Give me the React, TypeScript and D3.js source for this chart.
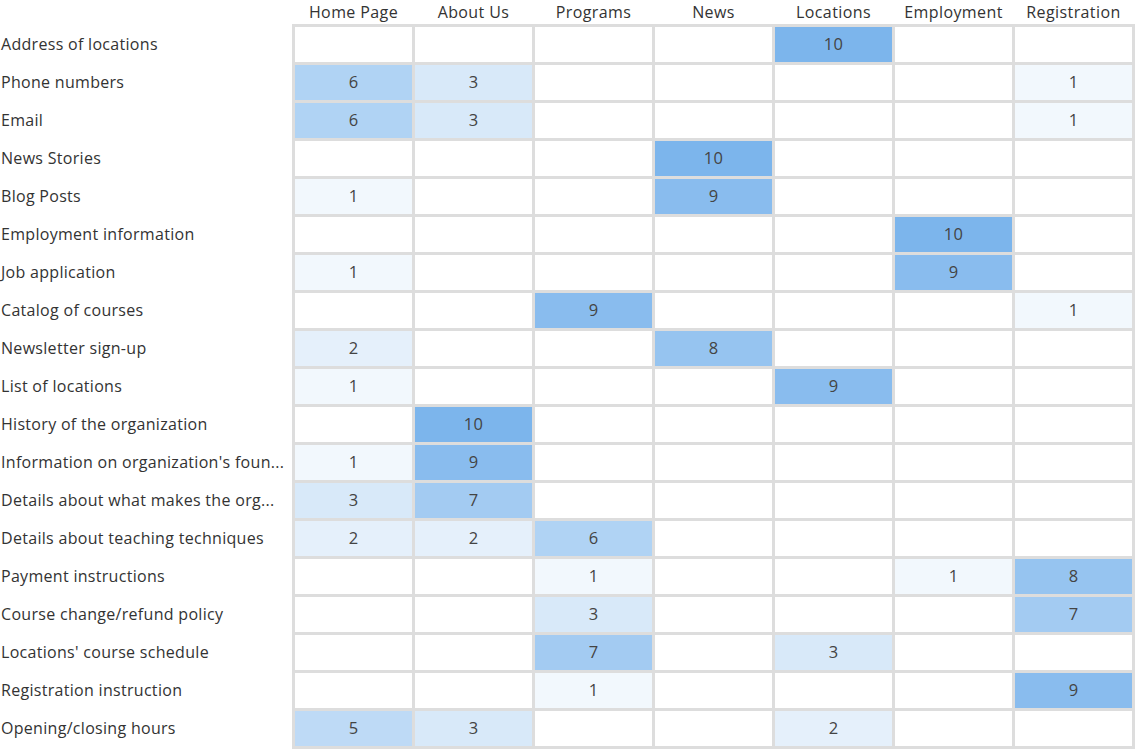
import React from "react";
import * as d3 from "d3";

const columns = ["Home Page", "About Us", "Programs", "News", "Locations", "Employment", "Registration"];
const rows = [
  "Address of locations",
  "Phone numbers",
  "Email",
  "News Stories",
  "Blog Posts",
  "Employment information",
  "Job application",
  "Catalog of courses",
  "Newsletter sign-up",
  "List of locations",
  "History of the organization",
  "Information on organization's foun...",
  "Details about what makes the org...",
  "Details about teaching techniques",
  "Payment instructions",
  "Course change/refund policy",
  "Locations' course schedule",
  "Registration instruction",
  "Opening/closing hours",
];

// values per column, one entry per row (0 = empty)
const homePage = [0, 6, 6, 0, 1, 0, 1, 0, 2, 1, 0, 1, 3, 2, 0, 0, 0, 0, 5];
const aboutUs = [0, 3, 3, 0, 0, 0, 0, 0, 0, 0, 10, 9, 7, 2, 0, 0, 0, 0, 3];
const programs = [0, 0, 0, 0, 0, 0, 0, 9, 0, 0, 0, 0, 0, 6, 1, 3, 7, 1, 0];
const news = [0, 0, 0, 10, 9, 0, 0, 0, 8, 0, 0, 0, 0, 0, 0, 0, 0, 0, 0];
const locations = [10, 0, 0, 0, 0, 0, 0, 0, 0, 9, 0, 0, 0, 0, 0, 0, 3, 0, 2];
const employment = [0, 0, 0, 0, 0, 10, 9, 0, 0, 0, 0, 0, 0, 0, 1, 0, 0, 0, 0];
const registration = [0, 1, 1, 0, 0, 0, 0, 1, 0, 0, 0, 0, 0, 0, 8, 7, 0, 9, 0];

const seriesByColumn = [homePage, aboutUs, programs, news, locations, employment, registration];

export default function App() {
  const width = 1136;
  const height = 750;
  const x = d3.scaleBand<string>().domain(columns).range([293.5, 1133.5]);
  const y = d3.scaleBand<string>().domain(rows).range([25.5, 747.5]);
  const color = d3.scaleLinear<string>().domain([0, 10]).range(["#ffffff", "#7cb5ec"]);
  const font = "'Open Sans', sans-serif";

  const cells: { r: string; c: string; v: number }[] = [];
  columns.forEach((c, ci) => {
    rows.forEach((r, ri) => {
      cells.push({ r, c, v: seriesByColumn[ci][ri] });
    });
  });

  return (
    <svg
      width={width}
      height={height}
      style={{ position: "absolute", left: 0, top: 0, display: "block" }}
      fontFamily={font}
    >
      <rect x={0} y={0} width={width} height={height} fill="#ffffff" />
      {cells.map((d, i) => (
        <rect
          key={"c" + i}
          x={x(d.c)}
          y={y(d.r)}
          width={x.bandwidth()}
          height={y.bandwidth()}
          fill={d.v > 0 ? color(d.v) : "#ffffff"}
          stroke="#dddddd"
          strokeWidth={3}
        />
      ))}
      {cells
        .filter((d) => d.v > 0)
        .map((d, i) => (
          <text
            key={"t" + i}
            x={(x(d.c) as number) + x.bandwidth() / 2}
            y={(y(d.r) as number) + y.bandwidth() / 2 - 1}
            textAnchor="middle"
            dominantBaseline="central"
            fontSize={16.5}
            letterSpacing={0.3}
            fill="#444444"
          >
            {d.v}
          </text>
        ))}
      {columns.map((c) => (
        <text
          key={"h" + c}
          x={(x(c) as number) + x.bandwidth() / 2}
          y={11.5}
          textAnchor="middle"
          dominantBaseline="central"
          fontSize={16}
          letterSpacing={0.4}
          fill="#333333"
        >
          {c}
        </text>
      ))}
      {rows.map((r) => (
        <text
          key={"r" + r}
          x={1}
          y={(y(r) as number) + y.bandwidth() / 2 - 1}
          dominantBaseline="central"
          fontSize={16}
          letterSpacing={0.3}
          fill="#333333"
        >
          {r}
        </text>
      ))}
    </svg>
  );
}
